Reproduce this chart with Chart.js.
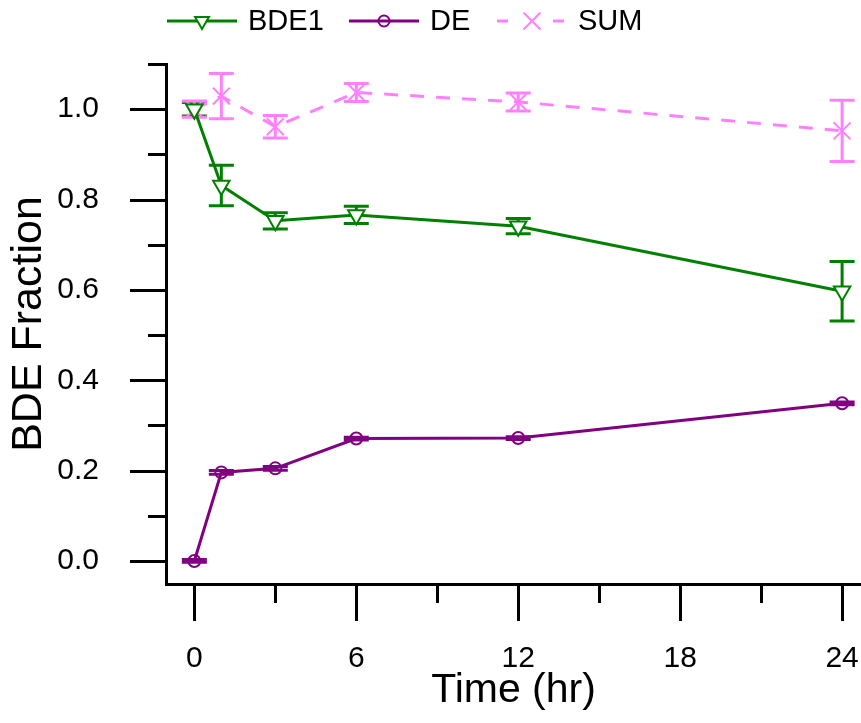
<!DOCTYPE html>
<html>
<head>
    <title>BDE Fraction</title>
    <script src="https://cdn.jsdelivr.net/npm/chart.js"></script>
    <style>
        body { margin: 0; background: #fff; }
    </style>
</head>
<body>
    <canvas id="myChart" width="861" height="723"></canvas>

    <script>
        // data
        var times = [0, 1, 3, 6, 12, 24];
        var bde1 = [1.000, 0.831, 0.753, 0.766, 0.741, 0.597];
        var bde1Err = [0.015, 0.045, 0.018, 0.019, 0.017, 0.066];
        var de = [0.000, 0.196, 0.205, 0.271, 0.272, 0.349];
        var deErr = [0.003, 0.004, 0.004, 0.003, 0.003, 0.003];
        var sum = [1.000, 1.029, 0.961, 1.037, 1.016, 0.952];
        var sumErr = [0.018, 0.050, 0.025, 0.020, 0.020, 0.068];

        var xMajor = [0, 6, 12, 18, 24];
        var xMinor = [3, 9, 15, 21];
        var yMajor = [0, 0.2, 0.4, 0.6, 0.8, 1.0];
        var yMinor = [0.1, 0.3, 0.5, 0.7, 0.9, 1.1];

        var FONT = "'Liberation Sans', Arial, sans-serif";
        var GREEN = '#008000', PURPLE = '#800080', PINK = '#ff80ff';

        function pts(ys) {
            return times.map(function (t, i) { return { x: t, y: ys[i] }; });
        }

        function noPad(s) {
            s.paddingLeft = 0; s.paddingRight = 0;
            s.paddingTop = 0; s.paddingBottom = 0;
        }

        var errorBars = {
            id: 'errorBars',
            beforeDatasetsDraw: function (chart) {
                var c = chart.ctx, xs = chart.scales.x, ys = chart.scales.y;
                chart.data.datasets.forEach(function (ds) {
                    if (!ds.errors) return;
                    c.save();
                    c.strokeStyle = ds.borderColor;
                    c.lineWidth = 3;
                    ds.data.forEach(function (p, i) {
                        var px = xs.getPixelForValue(p.x);
                        var top = ys.getPixelForValue(p.y + ds.errors[i]);
                        var bot = ys.getPixelForValue(p.y - ds.errors[i]);
                        c.beginPath();
                        c.moveTo(px, top); c.lineTo(px, bot);
                        c.moveTo(px - 12.5, top); c.lineTo(px + 12.5, top);
                        c.moveTo(px - 12.5, bot); c.lineTo(px + 12.5, bot);
                        c.stroke();
                    });
                    c.restore();
                });
            }
        };

        var tickMarks = {
            id: 'tickMarks',
            afterDraw: function (chart) {
                var c = chart.ctx, xs = chart.scales.x, ys = chart.scales.y;
                var a = chart.chartArea;
                c.save();
                c.strokeStyle = '#000';
                c.lineWidth = 3;
                c.beginPath();
                xMajor.concat(xMinor).forEach(function (v) {
                    var px = Math.round(xs.getPixelForValue(v)) + 0.5;
                    var len = xMajor.indexOf(v) >= 0 ? 37 : 19;
                    c.moveTo(px, a.bottom); c.lineTo(px, a.bottom + len);
                });
                yMajor.concat(yMinor).forEach(function (v) {
                    var py = Math.round(ys.getPixelForValue(v)) + 0.5;
                    var len = yMajor.indexOf(v) >= 0 ? 36 : 18;
                    c.moveTo(a.left, py); c.lineTo(a.left - len, py);
                });
                c.stroke();
                c.restore();
            }
        };

        var legendItems = [
            { ds: 0, x: 167 },
            { ds: 1, x: 349 },
            { ds: 2, x: 497 }
        ];

        var lineLegend = {
            id: 'lineLegend',
            afterDraw: function (chart) {
                var c = chart.ctx, y = 21;
                legendItems.forEach(function (it) {
                    var ds = chart.data.datasets[it.ds];
                    c.save();
                    c.strokeStyle = ds.borderColor;
                    c.lineWidth = 3;
                    c.beginPath();
                    if (ds.borderDash) {
                        c.setLineDash([11, 45]);
                    }
                    c.moveTo(it.x, y); c.lineTo(it.x + 70, y);
                    c.stroke();
                    c.setLineDash([]);
                    c.fillStyle = ds.pointBackgroundColor;
                    c.lineWidth = 2;
                    Chart.helpers.drawPoint(c, {
                        pointStyle: ds.pointStyle,
                        rotation: ds.pointRotation || 0,
                        radius: ds.legendRadius,
                        borderWidth: 2
                    }, it.x + 35, y);
                    c.fillStyle = '#000';
                    c.font = '29px ' + FONT;
                    c.textBaseline = 'middle';
                    c.textAlign = 'left';
                    c.fillText(ds.label, it.x + 81, y + 1);
                    c.restore();
                });
            }
        };

        var ctx = document.getElementById('myChart').getContext('2d');
        var myChart = new Chart(ctx, {
            type: 'line',
            data: {
                datasets: [{
                    label: 'BDE1',
                    data: pts(bde1),
                    errors: bde1Err,
                    borderColor: GREEN,
                    borderWidth: 3,
                    pointStyle: 'triangle',
                    pointRotation: 180,
                    pointRadius: 9.5,
                    legendRadius: 8,
                    pointBorderWidth: 2,
                    pointBackgroundColor: '#fff',
                    pointBorderColor: GREEN,
                    fill: false
                }, {
                    label: 'DE',
                    data: pts(de),
                    errors: deErr,
                    borderColor: PURPLE,
                    borderWidth: 3,
                    pointStyle: 'circle',
                    pointRadius: 6,
                    legendRadius: 5.5,
                    pointBorderWidth: 2,
                    pointBackgroundColor: 'rgba(0,0,0,0)',
                    pointBorderColor: PURPLE,
                    fill: false
                }, {
                    label: 'SUM',
                    data: pts(sum),
                    errors: sumErr,
                    borderColor: PINK,
                    borderWidth: 3,
                    borderDash: [14, 12],
                    pointStyle: 'crossRot',
                    pointRadius: 12,
                    legendRadius: 12,
                    pointBorderWidth: 2,
                    pointBackgroundColor: PINK,
                    pointBorderColor: PINK,
                    fill: false
                }]
            },
            options: {
                responsive: false,
                animation: false,
                layout: { autoPadding: false, padding: { top: 64, right: 0, left: 0, bottom: 0 } },
                plugins: {
                    legend: { display: false },
                    tooltip: { enabled: false }
                },
                elements: { line: { tension: 0 } },
                scales: {
                    x: {
                        type: 'linear',
                        min: -1.05,
                        max: 24.7,
                        afterBuildTicks: function (s) {
                            s.ticks = xMajor.map(function (v) { return { value: v }; });
                        },
                        afterFit: function (s) { s.height = 139; noPad(s); },
                        grid: { display: false },
                        border: { display: true, color: '#000', width: 3 },
                        ticks: {
                            padding: 49,
                            color: '#000',
                            font: { family: FONT, size: 30 },
                            maxRotation: 0,
                            callback: function (v) { return String(v); }
                        },
                        title: {
                            display: true,
                            text: 'Time (hr)',
                            color: '#000',
                            font: { family: FONT, size: 41 },
                            padding: { top: 0, bottom: 8 }
                        }
                    },
                    y: {
                        type: 'linear',
                        min: -0.051,
                        max: 1.1,
                        afterBuildTicks: function (s) {
                            s.ticks = yMajor.map(function (v) { return { value: v }; });
                        },
                        afterFit: function (s) { s.width = 166; noPad(s); },
                        grid: { display: false },
                        border: { display: true, color: '#000', width: 3 },
                        ticks: {
                            padding: 59,
                            color: '#000',
                            font: { family: FONT, size: 30 },
                            callback: function (v) { return v.toFixed(1); }
                        },
                        title: {
                            display: true,
                            text: 'BDE Fraction',
                            color: '#000',
                            font: { family: FONT, size: 43 },
                            padding: { top: 3, bottom: 0 }
                        }
                    }
                }
            },
            plugins: [errorBars, tickMarks, lineLegend]
        });
    </script>
</body>
</html>
